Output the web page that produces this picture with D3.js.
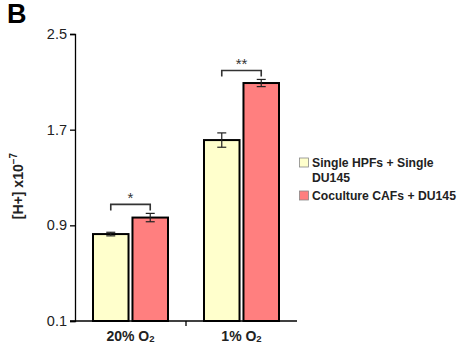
<!DOCTYPE html>
<html>
<head>
<meta charset="utf-8">
<script src="https://d3js.org/d3.v7.min.js"></script>
<style>
body { margin: 0; background: #fff; }
text { font-family: "Liberation Sans", Arial, sans-serif; }
</style>
</head>
<body>
<div id="chart"></div>
<script>
// data
var groups = ["20% O₂", "1% O₂"];
var seriesNames = ["Single HPFs + Single DU145", "Coculture CAFs + DU145"];
var singleVals = [0.827, 1.613];
var singleErr = [0.015, 0.06];
var cocultVals = [0.965, 2.09];
var cocultErr = [0.035, 0.03];
var stars = ["*", "**"];
var yTicks = [0.1, 0.9, 1.7, 2.5];
var colors = ["#ffffcc", "#ff7f7f"];

var width = 466, height = 345;

var svg = d3.select("#chart")
  .append("svg")
  .attr("width", width)
  .attr("height", height);

var x = d3.scaleBand()
  .domain(groups)
  .range([75, 297]);

var sub = d3.scaleBand()
  .domain([0, 1])
  .range([18, 93])
  .paddingInner(0.1);

var y = d3.scaleLinear()
  .domain([0.1, 2.5])
  .range([321, 34]);

// panel letter
svg.append("text")
  .attr("x", 7).attr("y", 23)
  .style("font-size", "27px").style("font-weight", "bold")
  .text("B");

// y axis
var yAxis = svg.append("g")
  .attr("transform", "translate(75,0)")
  .call(d3.axisLeft(y).tickValues(yTicks).tickFormat(d3.format(".1f")).tickSizeOuter(0).tickSize(5).tickPadding(3));
yAxis.select(".domain").attr("stroke", "#000").attr("stroke-width", 1.3);
yAxis.selectAll(".tick line").attr("stroke-width", 1.3);
yAxis.selectAll("text")
  .style("font-size", "14.5px")
  .attr("fill", "#222");

// x axis
var xAxis = svg.append("g")
  .attr("transform", "translate(0,321)")
  .call(d3.axisBottom(x).tickSize(0).tickPadding(10));
xAxis.select(".domain").attr("d", "M70,0H297").attr("stroke-width", 1.3);
xAxis.selectAll("text")
  .style("font-size", "14px").style("font-weight", "bold")
  .attr("fill", "#222")
  .each(function(d) {
    // draw the subscript 2 a bit larger than the font's own glyph
    var t = d3.select(this);
    t.text(null);
    t.append("tspan").text(d.replace("₂", ""));
    t.append("tspan").attr("dy", 1.5).style("font-size", "9.5px").text("2");
  });
// middle tick between groups
xAxis.append("line")
  .attr("x1", x(groups[1])).attr("x2", x(groups[1]))
  .attr("y1", 0).attr("y2", 5)
  .attr("stroke", "#000").attr("stroke-width", 1.3);

// bars
var rows = groups.map(function(g, i) {
  return [
    {g: g, s: 0, v: singleVals[i], e: singleErr[i]},
    {g: g, s: 1, v: cocultVals[i], e: cocultErr[i]}
  ];
});
var flat = [].concat.apply([], rows);

svg.selectAll("rect.bar")
  .data(flat)
  .enter()
  .append("rect")
  .attr("class", "bar")
  .attr("x", function(d) { return x(d.g) + sub(d.s); })
  .attr("y", function(d) { return y(d.v); })
  .attr("width", sub.bandwidth())
  .attr("height", function(d) { return y(0.1) - y(d.v); })
  .attr("fill", function(d) { return colors[d.s]; })
  .attr("stroke", "#000")
  .attr("stroke-width", 2);

// error bars
var eb = svg.selectAll("g.err")
  .data(flat)
  .enter()
  .append("g")
  .attr("class", "err")
  .attr("stroke", "#222")
  .attr("stroke-width", 1.2);
eb.append("line")
  .attr("x1", function(d) { return x(d.g) + sub(d.s) + sub.bandwidth() / 2; })
  .attr("x2", function(d) { return x(d.g) + sub(d.s) + sub.bandwidth() / 2; })
  .attr("y1", function(d) { return y(d.v + d.e); })
  .attr("y2", function(d) { return y(d.v - d.e); });
[1, -1].forEach(function(sgn) {
  eb.append("line")
    .attr("x1", function(d) { return x(d.g) + sub(d.s) + sub.bandwidth() / 2 - 4.5; })
    .attr("x2", function(d) { return x(d.g) + sub(d.s) + sub.bandwidth() / 2 + 4.5; })
    .attr("y1", function(d) { return y(d.v + sgn * d.e); })
    .attr("y2", function(d) { return y(d.v + sgn * d.e); });
});

// significance brackets
groups.forEach(function(g, i) {
  var x1 = x(g) + sub(0) + sub.bandwidth() / 2;
  var x2 = x(g) + sub(1) + sub.bandwidth() / 2;
  var top = y(cocultVals[i] + cocultErr[i]) - 9;
  svg.append("path")
    .attr("d", "M" + x1 + "," + (top + 6) + "V" + top + "H" + x2 + "V" + (top + 6))
    .attr("fill", "none")
    .attr("stroke", "#333")
    .attr("stroke-width", 1.6);
  svg.append("text")
    .attr("x", (x1 + x2) / 2)
    .attr("y", top - 1)
    .attr("text-anchor", "middle")
    .style("font-size", "15px")
    .attr("fill", "#333")
    .text(stars[i]);
});

// y axis label
var yl = svg.append("text")
  .attr("transform", "translate(23,186) rotate(-90)")
  .attr("text-anchor", "middle")
  .style("font-size", "14px").style("font-weight", "bold")
  .attr("fill", "#222");
yl.append("tspan").text("[H+] x10");
yl.append("tspan").attr("dy", -6).style("font-size", "10px").text("−7");

// legend
var legendLines = [["Single HPFs + Single", "DU145"], ["Coculture CAFs + DU145"]];
var legendY = [158, 191];
legendLines.forEach(function(lines, i) {
  svg.append("rect")
    .attr("x", 299.5).attr("y", legendY[i])
    .attr("width", 9).attr("height", 9)
    .attr("fill", colors[i])
    .attr("stroke", "#888").attr("stroke-width", 0.8);
  var t = svg.append("text")
    .attr("x", 312).attr("y", legendY[i] + 9)
    .style("font-size", "12.2px").style("font-weight", "bold")
    .attr("fill", "#222");
  lines.forEach(function(l, j) {
    t.append("tspan").attr("x", 312).attr("dy", j === 0 ? 0 : 15).text(l);
  });
});
</script>
</body>
</html>
